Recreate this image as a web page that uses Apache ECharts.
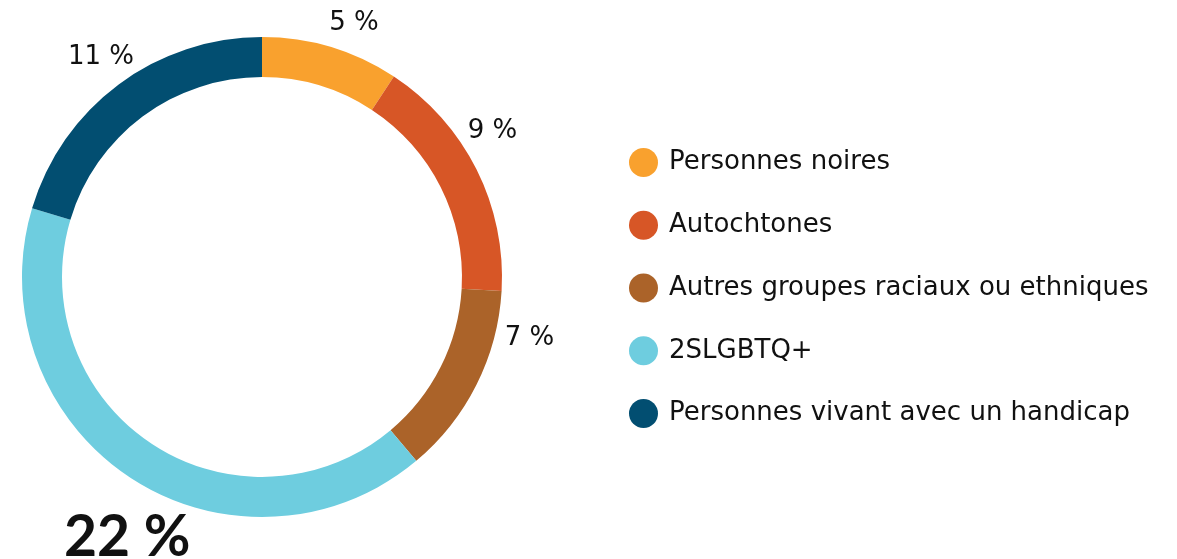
<!DOCTYPE html>
<html>
<head>
<meta charset="utf-8">
<script src="https://cdn.jsdelivr.net/npm/echarts@6/dist/echarts.min.js"></script>
<style>
  html, body { margin: 0; padding: 0; background: #fff; }
  #chart { width: 1177px; height: 559px; }
</style>
</head>
<body>
<div id="chart"></div>
<script>
// catégories et valeurs (en %)
const categories = ['Personnes noires', 'Autochtones', 'Autres groupes raciaux ou ethniques', '2SLGBTQ+', 'Personnes vivant avec un handicap'];
const values = [5, 9, 7, 22, 11];
const colors = ['#F9A12E', '#D75626', '#AB6329', '#6ECDDF', '#024E71'];
// petits décalages des étiquettes (style)
const labelShift = [[13, -7], [-5, -30], [32, -55], [12, 45], [-2, -13]];

const chart = echarts.init(document.getElementById('chart'));

const data = categories.map((name, i) => {
    const item = { name: name, value: values[i], itemStyle: { color: colors[i] } };
    // la plus grande part est mise en valeur
    if (values[i] === Math.max(...values)) {
        item.label = { fontSize: 57, fontWeight: 'bold', fontFamily: 'Lato' };
    }
    return item;
});

const option = {
    animation: false,
    textStyle: { fontFamily: 'DejaVu Sans' },
    legend: {
        orient: 'vertical',
        left: 624,
        top: 143,
        icon: 'circle',
        itemWidth: 29,
        itemHeight: 29,
        itemGap: 33.75,
        textStyle: { fontSize: 26, color: '#111', fontFamily: 'DejaVu Sans', padding: [0, 0, 0, 6] },
        data: categories
    },
    series: [{
        type: 'pie',
        center: [262, 277],
        radius: [200, 240],
        startAngle: 90,
        clockwise: true,
        avoidLabelOverlap: false,
        label: {
            show: true,
            position: 'outside',
            formatter: '{c} %',
            fontSize: 26,
            color: '#111',
            fontFamily: 'DejaVu Sans'
        },
        labelLine: { show: false, length: 18, length2: 0 },
        labelLayout: function (params) {
            const s = labelShift[params.dataIndex];
            return { align: 'center', verticalAlign: 'middle', dx: s[0], dy: s[1] };
        },
        emphasis: { disabled: true },
        data: data
    }]
};
chart.setOption(option);
</script>
</body>
</html>
